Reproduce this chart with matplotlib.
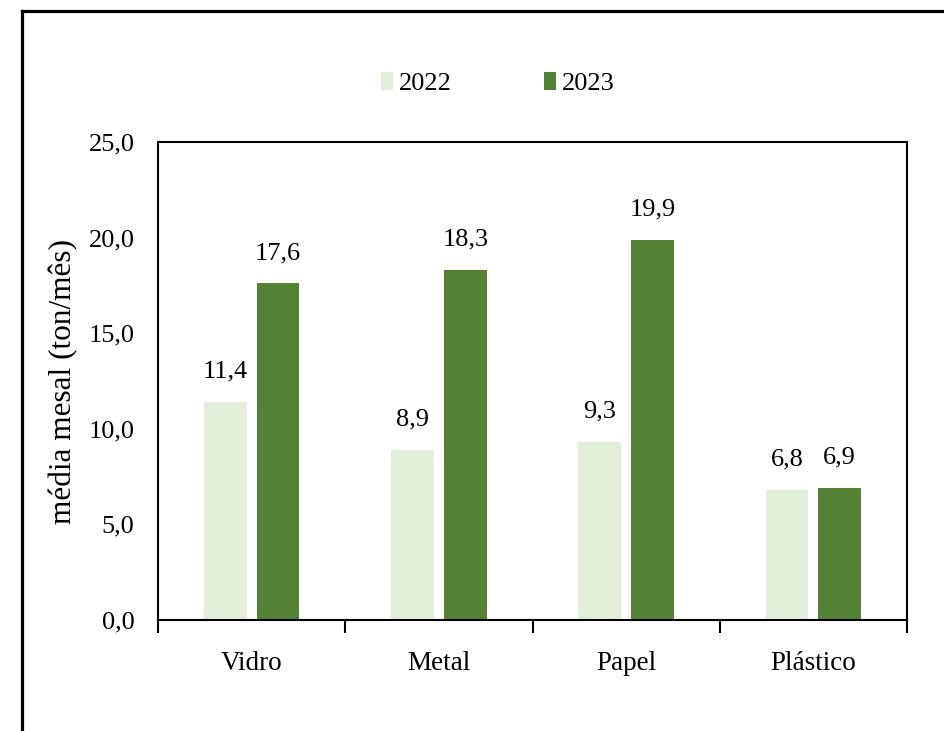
import matplotlib
matplotlib.use("Agg")
import matplotlib.pyplot as plt
import numpy as np
from matplotlib.patches import Patch
from matplotlib.lines import Line2D

categories = ["Vidro", "Metal", "Papel", "Plástico"]
series_names = ["2022", "2023"]
values_2022 = [11.4, 8.9, 9.3, 6.8]
values_2023 = [17.6, 18.3, 19.9, 6.9]
yticks = [0, 5, 10, 15, 20, 25]
ylabel = "média mesal (ton/mês)"

c2022 = "#E2EFDA"
c2023 = "#548235"

plt.rcParams['font.family'] = ['Liberation Serif', 'DejaVu Serif']

fig = plt.figure(figsize=(9.44, 7.31), dpi=100)
ax = fig.add_axes([158/944, 1-620/731, (907-158)/944, (620-142)/731])

x = np.arange(len(categories))
w = 0.229
off = 0.141
b1 = ax.bar(x - off, values_2022, w, color=c2022)
b2 = ax.bar(x + off, values_2023, w, color=c2023)

fmt = lambda v: f"{v:.1f}".replace(".", ",")
for bars, vals in ((b1, values_2022), (b2, values_2023)):
    for r, v in zip(bars, vals):
        ax.annotate(fmt(v), (r.get_x() + r.get_width()/2, v), xytext=(0, 14),
                    textcoords="offset points", ha="center", va="bottom", fontsize=19)

ax.set_xlim(-0.5, len(categories) - 0.5)
ax.set_ylim(0, 25)
ax.set_yticks(yticks)
ax.set_yticklabels([fmt(v) for v in yticks], fontsize=19)
ax.tick_params(axis='y', length=0, pad=17)
ax.set_xticks(x)
ax.set_xticklabels(categories, fontsize=19.5)
ax.tick_params(axis='x', which='major', length=0, pad=22)
ax.set_xticks(np.arange(len(categories) + 1) - 0.5, minor=True)
ax.tick_params(axis='x', which='minor', length=9, width=1.5, direction='out')
for s in ax.spines.values():
    s.set_linewidth(1.5)
ax.set_ylabel(ylabel, fontsize=22.5, labelpad=7)

handles = [Patch(facecolor=c2022), Patch(facecolor=c2023)]
fig.legend(handles, series_names, loc='center', bbox_to_anchor=(0.527, 0.886), ncol=2,
           frameon=False, fontsize=19, handlelength=0.48, handleheight=0.68,
           handletextpad=0.2, columnspacing=3.5)

# outer frame (left and top edges)
fig.add_artist(Line2D([22/944, 22/944], [0, 1-11/731], transform=fig.transFigure,
                      color='black', lw=2.3, solid_capstyle='projecting'))
fig.add_artist(Line2D([22/944, 1], [1-11/731, 1-11/731], transform=fig.transFigure,
                      color='black', lw=2.3, solid_capstyle='projecting'))

fig.savefig("out.png", dpi=100)
